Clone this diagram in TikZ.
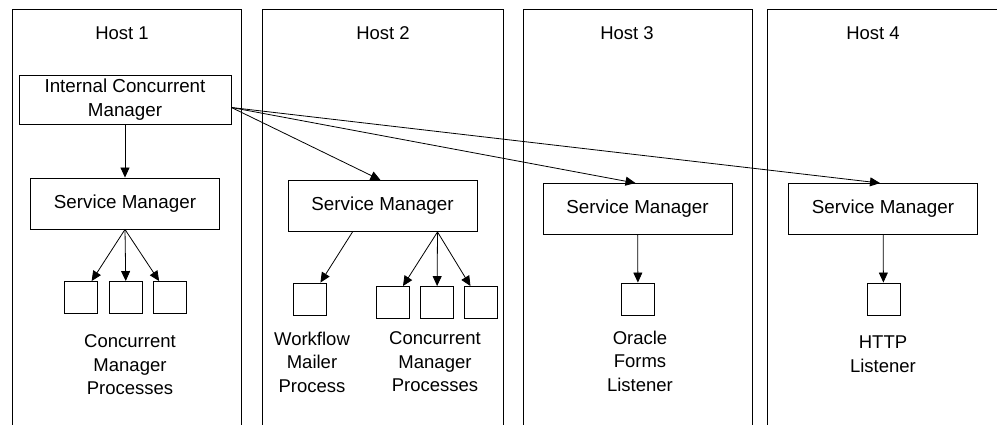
\documentclass[tikz,border=0pt]{standalone}
\usepackage{fontspec}
\setmainfont{Liberation Sans}
\usetikzlibrary{arrows.meta}
\begin{document}
\begin{tikzpicture}[x=1pt,y=-1pt]
\tikzset{boite/.style={draw, line width=0.9pt, inner sep=0pt, minimum width=189pt, minimum height=51pt, align=center, font=\fontsize{18.8}{24}\selectfont},
carre/.style={draw, line width=0.9pt, inner sep=0pt, minimum width=33pt, minimum height=32pt},
texte/.style={inner sep=0pt, align=center, font=\fontsize{18.5}{23.5}\selectfont},
fleche/.style={line width=0.8pt, -{Triangle[length=10pt,width=9pt]}}}
\useasboundingbox (0,0) rectangle (997,425);
\draw[line width=0.9pt] (12,425) -- (12,9) -- (241,9) -- (241,425);
\draw[line width=0.9pt] (262,425) -- (262,9) -- (503,9) -- (503,425);
\draw[line width=0.9pt] (523,425) -- (523,9) -- (752,9) -- (752,425);
\draw[line width=0.9pt] (767,425) -- (767,9) -- (997,9);
\node[texte] (H1) at (122,33) {Host 1};
\node[texte] (H2) at (383,33) {Host 2};
\node[texte] (H3) at (627,33) {Host 3};
\node[texte] (H4) at (873,33) {Host 4};
\node[boite, minimum width=212pt, minimum height=49pt] (ICM) at (125,99.5) {Internal Concurrent\\Manager};
\node[boite] (SM1) at (125,203.5) {Service Manager};
\node[boite] (SM2) at (382.5,206) {Service Manager};
\node[boite] (SM3) at (637.5,209) {Service Manager};
\node[boite] (SM4) at (883,209) {Service Manager};
\node[carre] (P1) at (81,297.5) {};
\node[carre] (P2) at (126,297.5) {};
\node[carre] (P3) at (170,297.5) {};
\node[carre] (W1) at (310,299) {};
\node[carre] (P4) at (392.5,302.5) {};
\node[carre] (P5) at (437,302.5) {};
\node[carre] (P6) at (480.5,302.5) {};
\node[carre] (OF) at (638,299) {};
\node[carre] (HL) at (883.5,299) {};
\node[texte] (L1) at (130,365) {Concurrent\\Manager\\Processes};
\node[texte] (L2) at (312,362) {Workflow\\Mailer\\Process};
\node[texte] (L3) at (435,362) {Concurrent\\Manager\\Processes};
\node[texte] (L4) at (640,361) {Oracle\\Forms\\Listener};
\node[texte] (L5) at (883,354) {HTTP\\Listener};
\draw[fleche] (ICM) -- (SM1);
\draw[fleche] ([yshift=-8pt]ICM.east) -- ([xshift=-2pt]SM2.north);
\draw[fleche] ([yshift=-8pt]ICM.east) -- ([xshift=-2pt]SM3.north);
\draw[fleche] ([yshift=-8pt]ICM.east) -- ([xshift=-3pt]SM4.north);
\draw[fleche] (SM1.south) -- (P1);
\draw[fleche] (SM1.south) -- (P2);
\draw[fleche] (SM1.south) -- (P3);
\draw[fleche] ([xshift=-30pt]SM2.south) -- (W1);
\draw[fleche] ([xshift=55pt]SM2.south) -- (P4);
\draw[fleche] ([xshift=55pt]SM2.south) -- (P5);
\draw[fleche] ([xshift=55pt]SM2.south) -- (P6);
\draw[fleche] (SM3) -- (OF);
\draw[fleche] (SM4) -- (HL);
\end{tikzpicture}
\end{document}
